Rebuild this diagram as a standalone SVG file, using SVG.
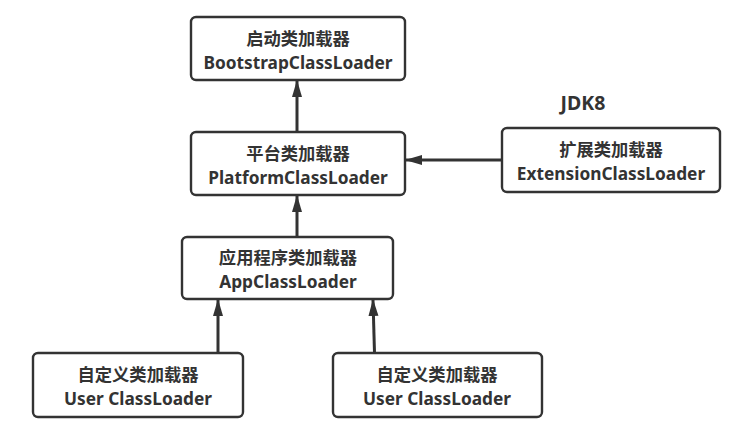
<svg xmlns="http://www.w3.org/2000/svg" width="731" height="437" viewBox="0 0 731 437">
<style>
.box{fill:#fff;stroke:#333;stroke-width:2.4}
.t{font-family:"Noto Sans","Noto Sans CJK SC",sans-serif;font-weight:bold;font-size:17.3px;fill:#333;text-anchor:middle}
.c{stroke:#333;stroke-width:3;fill:none;marker-end:url(#ah)}
</style>
<defs>
<marker id="ah" viewBox="0 0 17 11" refX="16" refY="5.5" markerWidth="17" markerHeight="11" orient="auto" markerUnits="userSpaceOnUse">
<path d="M0,0.5 L17,5.5 L0,10.5 z" fill="#333"/>
</marker>
</defs>
<rect width="731" height="437" fill="#fff"/>
<g id="bootstrap"><rect class="box" x="191" y="17" width="214" height="63" rx="5"/><text class="t" x="298" y="45">启动类加载器</text><text class="t" x="298" y="69">BootstrapClassLoader</text></g>
<g id="platform"><rect class="box" x="191" y="132" width="214" height="63" rx="5"/><text class="t" x="298" y="160">平台类加载器</text><text class="t" x="298" y="184">PlatformClassLoader</text></g>
<g id="jdk8"><text class="t" x="583" y="110" style="font-size:19.5px">JDK8</text></g>
<g id="extension"><rect class="box" x="502" y="128" width="218" height="64" rx="5"/><text class="t" x="611" y="156">扩展类加载器</text><text class="t" x="611" y="180">ExtensionClassLoader</text></g>
<g id="app"><rect class="box" x="182" y="237" width="211" height="62" rx="5"/><text class="t" x="288" y="264">应用程序类加载器</text><text class="t" x="288" y="288">AppClassLoader</text></g>
<g id="user1"><rect class="box" x="33" y="353" width="210" height="64" rx="5"/><text class="t" x="138" y="381">自定义类加载器</text><text class="t" x="138" y="405">User ClassLoader</text></g>
<g id="user2"><rect class="box" x="333" y="353" width="209" height="64" rx="5"/><text class="t" x="437" y="381">自定义类加载器</text><text class="t" x="437" y="405">User ClassLoader</text></g>
<g id="connectors">
<path class="c" d="M297,132 L297,81"/>
<path class="c" d="M502,160 L406,160"/>
<path class="c" d="M297,237 L297,196"/>
<path class="c" d="M218,353 L218,300"/>
<path class="c" d="M374.5,353 L373,300"/>
</g>
</svg>
